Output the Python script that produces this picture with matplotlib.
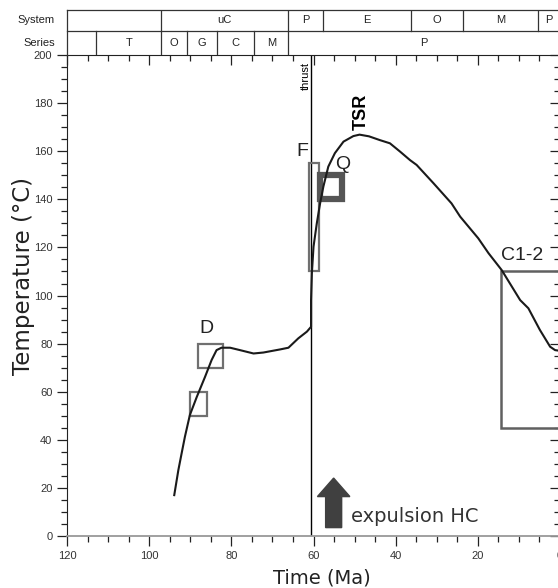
import matplotlib.pyplot as plt
from matplotlib.patches import Rectangle
from matplotlib.ticker import MultipleLocator

# Temperaturverlauf (Zeit in Ma, Temperatur in °C)
time_ma = [93.9, 92.9, 92.1, 91.3, 90.1, 88.4, 86.4, 84.8, 83.6, 82.4, 80.3, 77.9,
           74.6, 72.2, 68.1, 66.1, 63.7, 61.6, 60.6, 60.6, 60.4, 60.0, 59.2, 58.4,
           57.6, 56.4, 54.8, 52.7, 50.3, 48.8, 46.5, 43.8, 41.4, 38.9, 36.5, 34.9,
           30.8, 26.4, 24.3, 19.9, 17.4, 14.2, 9.7, 7.7, 4.9, 2.4, 1.2, 0.0]
temp_c = [17, 27.4, 34.4, 41.3, 50.3, 57.9, 66.2, 73.2, 77.3, 78.3, 78.3, 77.3,
          75.9, 76.3, 77.6, 78.3, 82.2, 85, 87, 98, 109.2, 120.3, 130, 138.3,
          145.3, 153.6, 159.2, 164, 166.3, 166.9, 166.2, 164.6, 163.3, 159.8, 156.3, 154.3,
          146.7, 138.3, 132.8, 123.8, 117.6, 110.6, 98.1, 94.7, 85.7, 78.7, 77.3, 77]

# Kalibrierungsboxen: (Name, t_alt, t_jung, T_min, T_max)
box_names = ["D", "", "F", "Q", "C1-2"]
box_t_old = [88.0, 90.0, 61.0, 58.5, 14.4]
box_t_young = [82.0, 86.0, 58.6, 53.0, 0.0]
box_T_min = [70, 50, 110, 140, 45]
box_T_max = [80, 60, 155, 150, 110]

thrust_age = 60.7

# Stratigraphische Tabelle
system_bounds = [120, 97.1, 66.1, 57.6, 36.3, 23.5, 5.3, 0]
system_labels = ["", "uC", "P", "E", "O", "M", "P"]
series_bounds = [120, 112.9, 97.1, 90.7, 83.6, 74.5, 66.1, 0]
series_labels = ["", "T", "O", "G", "C", "M", "P"]

fig = plt.figure(figsize=(5.58, 5.88), dpi=100)
ax = fig.add_axes([0.1201, 0.0884, 0.8835, 0.818])

ax.plot(time_ma, temp_c, color="#1a1a1a", lw=1.5, zorder=4)
ax.axvline(thrust_age, color="black", lw=1.0, zorder=2)

box_style = {
    "D": ("#707070", 1.6), "": ("#707070", 1.6), "F": ("#707070", 1.6),
    "Q": ("#555555", 4.5), "C1-2": ("#606060", 1.8),
}
for name, t0, t1, tmin, tmax in zip(box_names, box_t_old, box_t_young, box_T_min, box_T_max):
    col, lw = box_style[name]
    ax.add_patch(Rectangle((t1, tmin), t0 - t1, tmax - tmin, fill=False,
                           edgecolor=col, lw=lw, zorder=3, clip_on=False))

lab_font = dict(family="Liberation Sans", fontsize=14, color="#222222")
ax.text(86.0, 82.7, "D", ha="center", va="bottom", **lab_font)
ax.text(62.8, 156.3, "F", ha="center", va="bottom", **lab_font)
ax.text(52.8, 151.0, "Q", ha="center", va="bottom", **lab_font)
ax.text(9.3, 113.3, "C1-2", ha="center", va="bottom", **lab_font)

ax.text(61.8, 197.2, "thrust", rotation=90, ha="center", va="top",
        family="Liberation Sans", fontsize=8)
ax.text(48.3, 169, "TSR", rotation=90, ha="center", va="bottom",
        family="Liberation Sans", fontsize=13, fontweight="bold")

ax.arrow(55.1, 3.5, 0, 20.6, width=3.9, head_width=7.9, head_length=7.7,
         length_includes_head=True, color="#404040", zorder=5)
ax.text(50.8, 8.3, "expulsion HC", ha="left", va="center",
        family="DejaVu Sans", fontsize=14, color="#333333")

ax.set_xlim(120, 0)
ax.set_ylim(0, 200)
ax.xaxis.set_major_locator(MultipleLocator(20))
ax.xaxis.set_minor_locator(MultipleLocator(5))
ax.yaxis.set_major_locator(MultipleLocator(20))
ax.yaxis.set_minor_locator(MultipleLocator(5))
ax.tick_params(axis="x", which="both", bottom=True, top=True, labelbottom=True)
ax.tick_params(axis="y", which="both", left=True, right=True, labelleft=True)
ax.tick_params(axis="both", which="major", length=7, width=0.9, color="#222222",
               labelsize=8, labelcolor="#333333")
ax.tick_params(axis="both", which="minor", length=4, width=0.9, color="#222222")
ax.tick_params(axis="x", which="both", direction="out")
ax.tick_params(axis="y", which="both", direction="out")
for lab in ax.get_xticklabels() + ax.get_yticklabels():
    lab.set_family("Liberation Sans")
# oben und rechts nach innen
for tick in ax.xaxis.get_major_ticks() + ax.xaxis.get_minor_ticks():
    tick.tick2line.set_marker(3)
for tick in ax.yaxis.get_major_ticks() + ax.yaxis.get_minor_ticks():
    tick.tick2line.set_marker(0)

ax.spines["bottom"].set_color("#999999")
ax.spines["bottom"].set_linewidth(1.3)
ax.spines["left"].set_color("#222222")
ax.spines["top"].set_color("#222222")

ax.set_xlabel("Time (Ma)", family="DejaVu Sans", fontsize=14, color="#222222")
ax.set_ylabel("Temperature (°C)", family="DejaVu Sans", fontsize=16.5, color="#222222")
ax.xaxis.set_label_coords(0.517, -0.068)
ax.yaxis.set_label_coords(-0.064, 0.54)

# Tabelle oben
tab = fig.add_axes([0.1201, 0.9065, 0.8835, 0.0765])
tab.set_xlim(120, 0)
tab.set_ylim(0, 45)
tab.axis("off")
lc = "#333333"
tab.plot([120, 0], [45, 45], color=lc, lw=0.9, clip_on=False)
tab.plot([120, 0], [24, 24], color=lc, lw=0.9, clip_on=False)
tab.plot([120, 120], [0, 45], color=lc, lw=0.9, clip_on=False)
for b in system_bounds[1:-1]:
    tab.plot([b, b], [24, 45], color=lc, lw=0.9)
for b in series_bounds[1:-1]:
    tab.plot([b, b], [0, 24], color=lc, lw=0.9)
tfont = dict(family="Liberation Sans", fontsize=8, color="#222222")
for lab, a, b in zip(system_labels, system_bounds[:-1], system_bounds[1:]):
    tab.text((a + b) / 2, 34.5, lab, ha="center", va="center", **tfont)
for lab, a, b in zip(series_labels, series_bounds[:-1], series_bounds[1:]):
    tab.text((a + b) / 2, 12, lab, ha="center", va="center", **tfont)
tab.text(123, 34.5, "System", ha="right", va="center", **tfont)
tab.text(123, 12, "Series", ha="right", va="center", **tfont)

plt.savefig("out.png", dpi=100)
